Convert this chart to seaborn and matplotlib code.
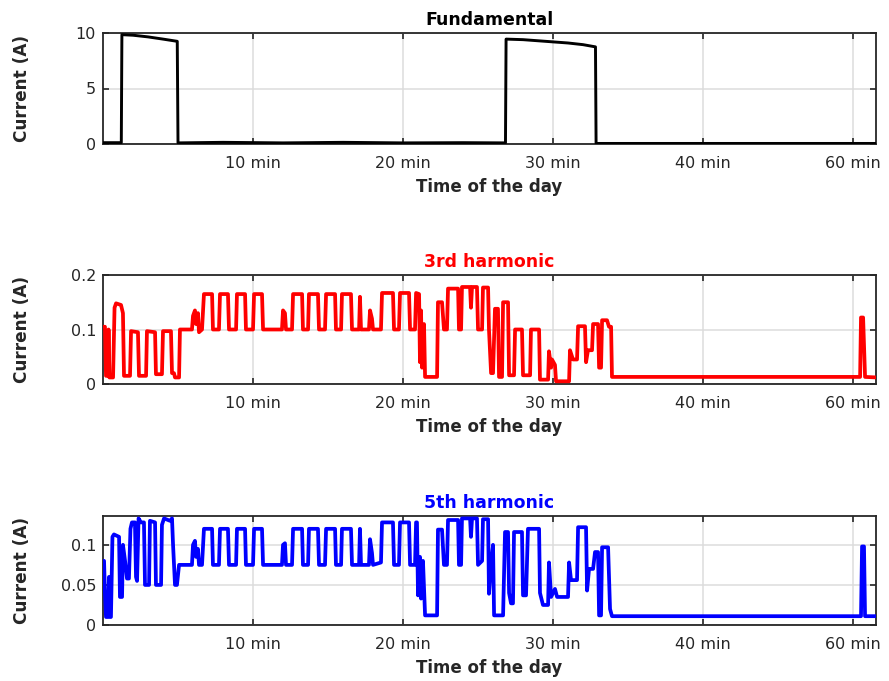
import matplotlib
matplotlib.use("Agg")
import matplotlib.pyplot as plt
import seaborn as sns
import pandas as pd

# ---------------- data (time in minutes, current in A) ----------------
fund_t = [0.0, 1.22, 1.26, 2.0, 3.0, 4.0, 4.95, 5.0, 8.0, 12.0, 16.0, 20.0, 24.0,
          26.83, 26.87, 28.0, 29.0, 30.0, 31.0, 32.0, 32.83, 32.87, 36.0, 40.0, 45.0, 51.6]
fund_v = [0.12, 0.12, 9.85, 9.8, 9.65, 9.45, 9.25, 0.1, 0.15, 0.1, 0.15, 0.1, 0.12,
          0.1, 9.45, 9.4, 9.3, 9.2, 9.1, 8.95, 8.75, 0.05, 0.05, 0.05, 0.05, 0.05]

h3_t = [0.0, 0.13, 0.2, 0.33, 0.37, 0.43, 0.67, 0.77, 0.87, 1.2, 1.33, 1.4, 1.8, 1.87,
        2.33, 2.4, 2.87, 2.93, 3.47, 3.53, 3.93, 4.0, 4.53, 4.6, 4.73, 4.8, 5.07, 5.13,
        5.93, 6.0, 6.13, 6.2, 6.33, 6.4, 6.6, 6.73, 7.27, 7.33, 7.73, 7.8, 8.33, 8.4,
        8.87, 8.93, 9.47, 9.53, 10.0, 10.07, 10.6, 10.67, 11.93, 12.0, 12.13, 12.2,
        12.6, 12.67, 13.27, 13.33, 13.67, 13.73, 14.33, 14.4, 14.8, 14.87, 15.47, 15.53,
        15.87, 15.93, 16.53, 16.6, 17.07, 17.13, 17.2, 17.73, 17.8, 17.93, 18.0, 18.53,
        18.6, 19.33, 19.4, 19.73, 19.8, 20.4, 20.47, 20.8, 20.87, 21.07, 21.13, 21.2,
        21.27, 21.4, 21.47, 22.27, 22.33, 22.6, 22.73, 22.93, 23.0, 23.67, 23.73, 23.87,
        23.93, 24.47, 24.53, 24.6, 24.93, 25.0, 25.27, 25.33, 25.67, 25.73, 25.87, 26.0,
        26.13, 26.33, 26.4, 26.6, 26.67, 27.0, 27.07, 27.4, 27.47, 27.93, 28.0, 28.47,
        28.53, 29.07, 29.13, 29.67, 29.73, 29.87, 29.93, 30.13, 30.2, 31.07, 31.13,
        31.33, 31.6, 31.67, 32.13, 32.2, 32.33, 32.6, 32.67, 33.0, 33.07, 33.2, 33.27,
        33.6, 33.73, 33.87, 33.93, 50.47, 50.53, 50.67, 50.8, 51.6]
h3_v = [0.105, 0.105, 0.015, 0.015, 0.1, 0.012, 0.012, 0.14, 0.148, 0.145, 0.13, 0.015,
        0.015, 0.097, 0.095, 0.015, 0.015, 0.097, 0.095, 0.018, 0.018, 0.097, 0.097, 0.02,
        0.02, 0.012, 0.012, 0.1, 0.1, 0.125, 0.135, 0.11, 0.13, 0.095, 0.1, 0.165, 0.165,
        0.1, 0.1, 0.165, 0.165, 0.1, 0.1, 0.165, 0.165, 0.1, 0.1, 0.165, 0.165, 0.1, 0.1,
        0.135, 0.13, 0.1, 0.1, 0.165, 0.165, 0.1, 0.1, 0.165, 0.165, 0.1, 0.1, 0.165,
        0.165, 0.1, 0.1, 0.165, 0.165, 0.1, 0.1, 0.16, 0.1, 0.1, 0.135, 0.12, 0.1, 0.1,
        0.167, 0.167, 0.1, 0.1, 0.167, 0.167, 0.1, 0.1, 0.167, 0.165, 0.04, 0.135, 0.03,
        0.11, 0.013, 0.013, 0.15, 0.15, 0.1, 0.1, 0.175, 0.175, 0.1, 0.1, 0.178, 0.178,
        0.14, 0.178, 0.178, 0.1, 0.1, 0.177, 0.177, 0.1, 0.02, 0.02, 0.138, 0.138, 0.013,
        0.013, 0.15, 0.15, 0.016, 0.016, 0.1, 0.1, 0.016, 0.016, 0.1, 0.1, 0.008, 0.008,
        0.06, 0.03, 0.045, 0.035, 0.005, 0.005, 0.062, 0.045, 0.045, 0.106, 0.106, 0.04,
        0.062, 0.062, 0.11, 0.11, 0.03, 0.03, 0.117, 0.117, 0.105, 0.105, 0.013, 0.013,
        0.122, 0.122, 0.013, 0.012]

h5_t = [0.0, 0.07, 0.13, 0.2, 0.33, 0.4, 0.47, 0.53, 0.63, 0.73, 1.07, 1.13, 1.27, 1.33,
        1.47, 1.6, 1.73, 1.83, 1.93, 2.13, 2.2, 2.27, 2.37, 2.53, 2.73, 2.8, 3.07, 3.13,
        3.47, 3.53, 3.87, 3.93, 4.07, 4.47, 4.6, 4.67, 4.8, 4.93, 5.07,
        5.93, 6.0, 6.13, 6.2, 6.33, 6.4, 6.6, 6.73, 7.27, 7.33, 7.73, 7.8, 8.33, 8.4,
        8.87, 8.93, 9.47, 9.53, 10.0, 10.07, 10.6, 10.67, 11.93, 12.0, 12.13, 12.2,
        12.6, 12.67, 13.27, 13.33, 13.67, 13.73, 14.33, 14.4, 14.8, 14.87, 15.47, 15.53,
        15.87, 15.93, 16.53, 16.6, 17.07, 17.13, 17.2, 17.73, 17.8, 17.93, 18.0, 18.53,
        18.6, 19.33, 19.4, 19.73, 19.8, 20.4, 20.47, 20.8, 20.87, 20.93, 21.0, 21.13,
        21.2, 21.33, 21.47, 22.27, 22.33, 22.6, 22.73, 22.93, 23.0, 23.67, 23.73, 23.87,
        23.93, 24.47, 24.53, 24.6, 24.93, 25.0, 25.27, 25.33, 25.67, 25.73, 25.87, 26.0,
        26.07, 26.67, 26.8, 27.0, 27.07, 27.2, 27.33, 27.4, 27.93, 28.0, 28.2, 28.33,
        29.07, 29.13, 29.33, 29.67, 29.73, 29.87, 30.13, 30.27, 31.0, 31.07, 31.2, 31.6,
        31.67, 32.2, 32.27, 32.4, 32.67, 32.8, 33.0, 33.07, 33.2, 33.27, 33.67, 33.8,
        33.93, 50.53, 50.6, 50.73, 50.8, 51.6]
h5_v = [0.08, 0.08, 0.04, 0.01, 0.01, 0.06, 0.01, 0.01, 0.11, 0.113, 0.11, 0.035, 0.035,
        0.1, 0.08, 0.058, 0.058, 0.12, 0.128, 0.128, 0.06, 0.055, 0.133, 0.128, 0.128,
        0.05, 0.05, 0.13, 0.128, 0.05, 0.05, 0.125, 0.133, 0.13, 0.133, 0.1, 0.05, 0.05,
        0.075, 0.075, 0.1, 0.105, 0.085, 0.095, 0.075, 0.075, 0.12, 0.12, 0.075, 0.075,
        0.12, 0.12, 0.075, 0.075, 0.12, 0.12, 0.075, 0.075, 0.12, 0.12, 0.075, 0.075,
        0.1, 0.102, 0.075, 0.075, 0.12, 0.12, 0.075, 0.075, 0.12, 0.12, 0.075, 0.075,
        0.12, 0.12, 0.075, 0.075, 0.12, 0.12, 0.075, 0.075, 0.12, 0.075, 0.075, 0.107,
        0.09, 0.075, 0.078, 0.128, 0.128, 0.075, 0.075, 0.128, 0.128, 0.075, 0.075,
        0.128, 0.128, 0.037, 0.085, 0.033, 0.08, 0.012, 0.012, 0.119, 0.119, 0.075,
        0.075, 0.131, 0.131, 0.075, 0.075, 0.133, 0.133, 0.11, 0.133, 0.133, 0.075,
        0.08, 0.132, 0.132, 0.039, 0.076, 0.1, 0.012, 0.012, 0.116, 0.116, 0.04, 0.027,
        0.027, 0.116, 0.116, 0.037, 0.037, 0.12, 0.12, 0.04, 0.025, 0.025, 0.078, 0.035,
        0.045, 0.035, 0.035, 0.078, 0.056, 0.056, 0.122, 0.122, 0.043, 0.07, 0.07,
        0.091, 0.091, 0.012, 0.012, 0.097, 0.097, 0.02, 0.011, 0.011, 0.098, 0.098,
        0.011, 0.011]

xtick_values = [10, 20, 30, 40, 50]
xtick_labels = ["10 min", "20 min", "30 min", "40 min", "60 min"]
titles = ["Fundamental", "3rd harmonic", "5th harmonic"]
colors = ["black", "#ff0000", "#0000ff"]
yticks = [[0, 5, 10], [0, 0.1, 0.2], [0, 0.05, 0.1]]
ytick_labels = [["0", "5", "10"], ["0", "0.1", "0.2"], ["0", "0.05", "0.1"]]
ylims = [(0, 10), (0, 0.2), (0, 0.136)]

# ---------------- figure ----------------
sns.set_theme(style="white")
plt.rcParams["font.family"] = ["DejaVu Sans"]
fig = plt.figure(figsize=(8.89, 6.81), dpi=100)

W, H = 889, 681
left_px, right_px = 103, 876
boxes = [(33, 144), (275, 384), (516, 625)]
series = [(fund_t, fund_v), (h3_t, h3_v), (h5_t, h5_v)]
lws = [2.1, 2.7, 2.7]
dark = "#262626"

for i, ((top, bot), (t, v)) in enumerate(zip(boxes, series)):
    ax = fig.add_axes([left_px / W, 1 - bot / H, (right_px - left_px) / W, (bot - top) / H])
    df = pd.DataFrame({"t": t, "v": v})
    sns.lineplot(data=df, x="t", y="v", ax=ax, estimator=None, sort=False,
                 color=colors[i], linewidth=lws[i], zorder=3)
    ax.set_xlim(0, 51.53)
    ax.set_ylim(*ylims[i])
    ax.set_xticks(xtick_values)
    ax.set_xticklabels(xtick_labels)
    ax.set_yticks(yticks[i])
    ax.set_yticklabels(ytick_labels[i])
    ax.grid(True, color="#dcdcdc", linewidth=1.1, zorder=0)
    ax.set_axisbelow(True)
    for s in ax.spines.values():
        s.set_visible(True)
        s.set_color(dark)
        s.set_linewidth(1.3)
    ax.tick_params(direction="in", length=4.5, width=1.2, color=dark,
                   top=True, right=True, bottom=True, left=True,
                   labelsize=11.5, labelcolor=dark)
    ax.tick_params(axis="x", pad=8.5)
    ax.tick_params(axis="y", pad=5)
    ax.set_title(titles[i], color=colors[i], fontsize=12.5, fontweight="bold", pad=6)
    ax.set_xlabel("Time of the day", fontsize=12, fontweight="bold", color=dark, labelpad=5)
    ax.set_ylabel("Current (A)", fontsize=12.2, fontweight="bold", color=dark)
    ax.yaxis.set_label_coords(-0.093, 0.5)

fig.savefig("out.png", dpi=100)
